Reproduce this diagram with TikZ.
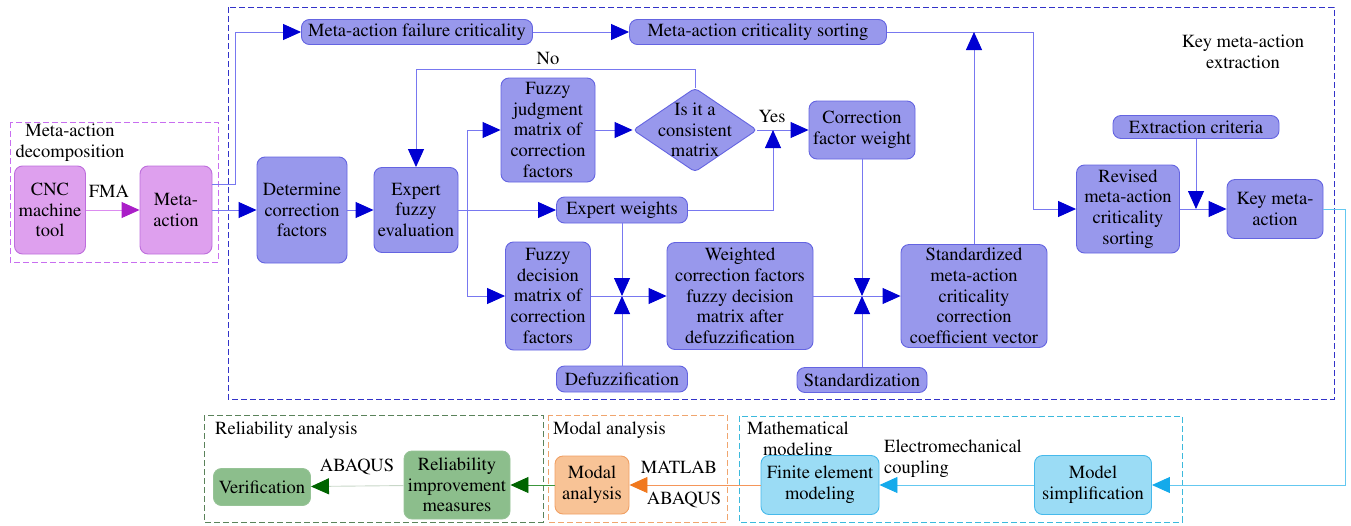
\documentclass[tikz,border=0pt]{standalone}
\usepackage[T1]{fontenc}
\usepackage{times}
\usetikzlibrary{arrows.meta,shapes.geometric}
\definecolor{bfill}{RGB}{152,152,236}
\definecolor{bdraw}{RGB}{100,100,225}
\definecolor{bline}{RGB}{120,120,240}
\definecolor{btip}{RGB}{0,0,210}
\definecolor{bdash}{RGB}{50,50,200}
\definecolor{pfill}{RGB}{222,160,238}
\definecolor{pdraw}{RGB}{190,110,220}
\definecolor{pline}{RGB}{220,140,240}
\definecolor{ptip}{RGB}{170,30,200}
\definecolor{pdash}{RGB}{200,110,240}
\definecolor{gfill}{RGB}{140,190,140}
\definecolor{gdraw}{RGB}{150,195,150}
\definecolor{gtip}{RGB}{0,100,0}
\definecolor{gline}{RGB}{60,150,60}
\definecolor{gline2}{RGB}{200,215,200}
\definecolor{gdash}{RGB}{90,130,90}
\definecolor{ofill}{RGB}{248,195,150}
\definecolor{odraw}{RGB}{240,160,100}
\definecolor{otip}{RGB}{240,120,30}
\definecolor{oline}{RGB}{245,150,90}
\definecolor{odash}{RGB}{240,165,110}
\definecolor{cfill}{RGB}{155,220,245}
\definecolor{cdraw}{RGB}{70,185,235}
\definecolor{ctip}{RGB}{20,170,235}
\definecolor{cline}{RGB}{100,200,240}
\definecolor{cdash}{RGB}{60,185,220}
\newcommand\myfsz{\rmfamily\fontsize{18.5pt}{20.8pt}\selectfont}
\tikzset{
  sz/.style 2 args={minimum width=#1, minimum height=#2},
  box/.style={rounded corners=8pt, align=center, inner sep=1pt, line width=0.9pt},
  bbox/.style={box, draw=bdraw, fill=bfill},
  pbox/.style={box, draw=pdraw, fill=pfill},
  gbox/.style={box, draw=gdraw, fill=gfill},
  obox/.style={box, draw=odraw, fill=ofill},
  cbox/.style={box, draw=cdraw, fill=cfill},
  conn/.style={line width=0.9pt},
  barr/.style={conn, draw=bline, -{Triangle[length=18pt,width=16pt,color=btip]}},
  parr/.style={conn, draw=pline, -{Triangle[length=18pt,width=16pt,color=ptip]}},
  garr/.style={conn, draw=gline, -{Triangle[length=18pt,width=16pt,color=gtip]}},
  garrb/.style={conn, draw=gline2, -{Triangle[length=18pt,width=16pt,color=gtip]}},
  oarr/.style={conn, draw=oline, -{Triangle[length=18pt,width=16pt,color=otip]}},
  carr/.style={conn, draw=cline, -{Triangle[length=18pt,width=16pt,color=ctip]}},
  frame/.style={line width=0.9pt, dash pattern=on 6pt off 3pt},
  lbl/.style={align=center, inner sep=0pt}
}
\begin{document}
\begin{tikzpicture}[x=1pt, y=-1pt, font=\myfsz]
\useasboundingbox (0,0) rectangle (1351,525);
% frames
\draw[frame, draw=bdash] (228,7) rectangle (1334,399);
\draw[frame, draw=pdash] (10,122) rectangle (218,262);
\draw[frame, draw=gdash] (204,415) rectangle (543,522);
\draw[frame, draw=odash] (548,415) rectangle (727,522);
\draw[frame, draw=cdash] (739,416) rectangle (1182,522);
% frame titles
\node[lbl] (tdec) at (70,143) {Meta-action\\decomposition};
\node[lbl] (tkey) at (1243,52) {Key meta-action\\extraction};
\node[lbl, anchor=west] (trel) at (215,430) {Reliability analysis};
\node[lbl, anchor=west] (tmod) at (553,430) {Modal analysis};
\node[lbl] (tmath) at (798,441) {Mathematical\\modeling};
% nodes
\node[pbox, sz={71pt}{88pt}] (cnc) at (50,210) {CNC\\machine\\tool};
\node[pbox, sz={72pt}{88pt}] (meta) at (176,210) {Meta-\\action};
\node[bbox, sz={231pt}{25pt}] (fail) at (417,32) {Meta-action failure criticality};
\node[bbox, sz={257pt}{25pt}] (sort) at (758,32) {Meta-action criticality sorting};
\node[bbox, sz={90pt}{106pt}] (det) at (302,210) {Determine\\correction\\factors};
\node[bbox, sz={84pt}{85pt}] (expert) at (416,210) {Expert\\fuzzy\\evaluation};
\node[bbox, sz={94pt}{104pt}] (fj) at (548,130) {Fuzzy\\judgment\\matrix of\\correction\\factors};
\node[diamond, draw=bdraw, fill=bfill, line width=0.9pt, inner sep=0pt, sz={124pt}{84pt}, rounded corners=4pt] (dia) at (695,130) {};
\node[lbl] (diat) at (dia) {Is it a\\consistent\\matrix};
\node[bbox, sz={106pt}{58pt}] (cfw) at (862,130) {Correction\\factor weight};
\node[bbox, sz={131pt}{26pt}] (ew) at (622,210) {Expert weights};
\node[bbox, sz={85pt}{108pt}] (fd) at (548,296) {Fuzzy\\decision\\matrix of\\correction\\factors};
\node[bbox, sz={146pt}{107pt}] (wt) at (740,296) {Weighted\\correction factors\\fuzzy decision\\matrix after\\defuzzification};
\node[bbox, sz={131pt}{26pt}] (defz) at (622,379) {Defuzzification};
\node[bbox, sz={130pt}{25pt}] (stdz) at (862,380) {Standardization};
\node[bbox, sz={146pt}{103pt}] (stdv) at (974,296) {Standardized\\meta-action\\criticality\\correction\\coefficient vector};
\node[bbox, sz={103pt}{88pt}] (rev) at (1128,209) {Revised\\meta-action\\criticality\\sorting};
\node[bbox, sz={96pt}{59pt}] (key) at (1275,209) {Key meta-\\action};
\node[bbox, sz={166pt}{23pt}] (ext) at (1196,127) {Extraction criteria};
\node[gbox, sz={97pt}{37pt}] (ver) at (262,487) {Verification};
\node[gbox, sz={106pt}{68pt}] (rim) at (457,485) {Reliability\\improvement\\measures};
\node[obox, sz={74pt}{58pt}] (modal) at (592,485) {Modal\\analysis};
\node[cbox, sz={118pt}{59pt}] (fem) at (820,485) {Finite element\\modeling};
\node[cbox, sz={117pt}{59pt}] (ms) at (1093,485) {Model\\simplification};
% labels
\node[lbl] (lfma) at (109,191) {FMA};
\node[lbl] (lno) at (548,59) {No};
\node[lbl] (lyes) at (772,117) {Yes};
\node[lbl] (lmat) at (679,467) {MATLAB};
\node[lbl] (laba) at (684,500) {ABAQUS};
\node[lbl] (laba2) at (357,467) {ABAQUS};
\node[lbl, anchor=west, align=left] (lelec) at (884,459) {Electromechanical\\coupling};
% coordinates
\coordinate (sc) at (1033,32);
\coordinate (br) at (467,210);
\coordinate (yj) at (773,130);
\coordinate (bt1) at (ew.south |- fd.east);
\coordinate (bt2) at (cfw.south |- wt.east);
% connectors
\draw[parr] (cnc) -- (meta);
\draw[barr] ([yshift=26pt]meta.east) -- ++(23,0) |- (fail.west);
\draw[barr] (meta) -- (det);
\draw[barr] (fail) -- (sort);
\draw[barr] (sort.east) -- (sc) |- (rev.west);
\draw[barr] (det) -- (expert);
\draw[barr] (expert.east) -- (ew.west);
\draw[barr] (br) |- (fj.west);
\draw[barr] (br) |- (fd.west);
\draw[barr] (dia.north) -- ++(0,-18) -| (expert.north);
\draw[barr] (fj) -- (dia);
\draw[barr] (dia) -- (cfw);
\draw[barr] (ew.east) -| (yj);
\draw[barr] (ew.south) -- (bt1);
\draw[barr] (defz.north) -- (bt1);
\draw[barr] (cfw.south) -- (bt2);
\draw[barr] (stdz.north) -- (bt2);
\draw[barr] (fd.east) -- (wt.west);
\draw[barr] (wt.east) -- (stdv.west);
\draw[barr] (stdv.north) -- (stdv.north |- sort.east);
\draw[barr] (rev) -- (key);
\draw[barr] (ext.south) -- (ext.south |- rev.east);
\draw[carr] (key.east) -- ++(22,0) |- (ms.east);
\draw[carr] (ms) -- (fem);
\draw[oarr] (fem) -- (modal);
\draw[garr] (modal) -- (rim);
\draw[garrb] (rim) -- (ver);
\end{tikzpicture}
\end{document}
